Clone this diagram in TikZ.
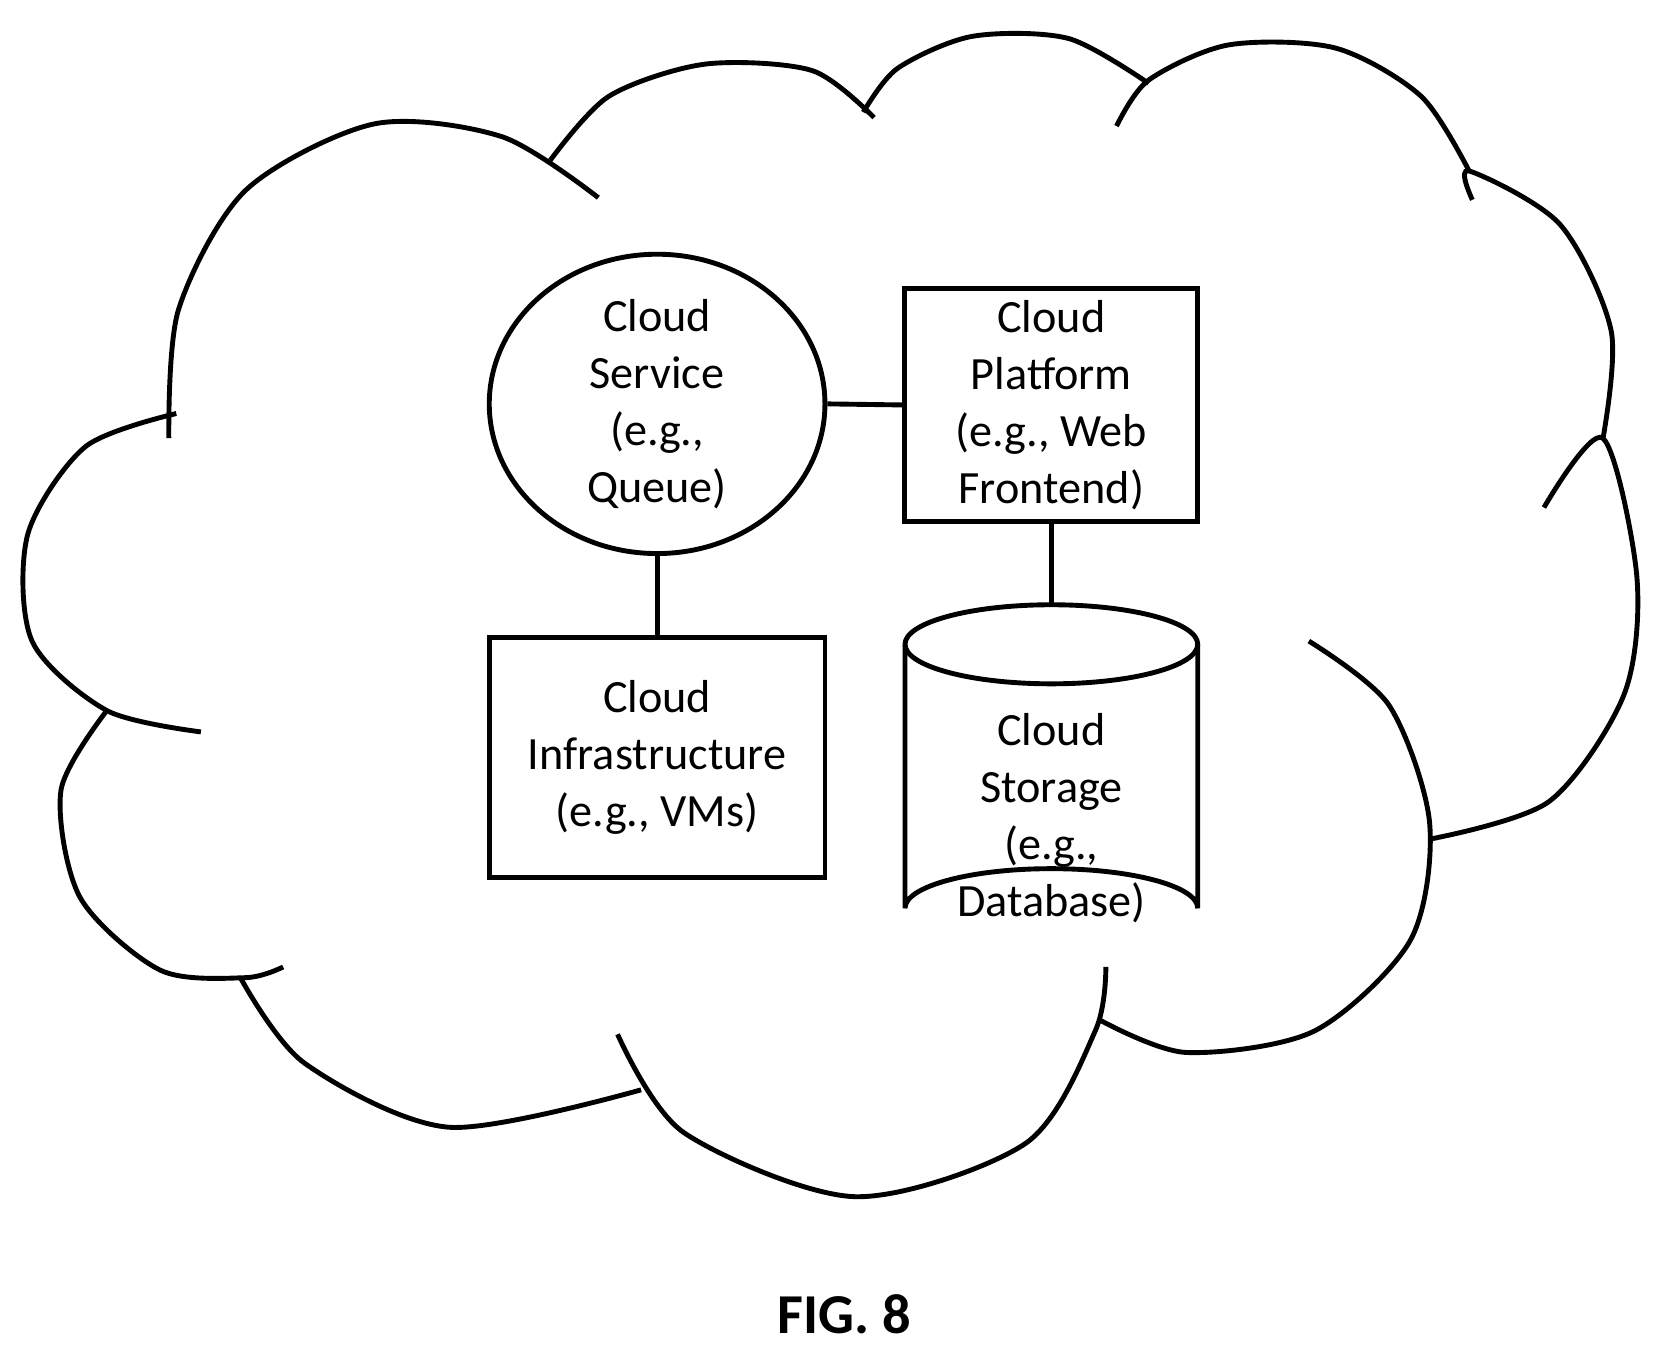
\documentclass[tikz,border=0pt]{standalone}
\usepackage{fontspec}
\setmainfont{Carlito}
\usetikzlibrary{shapes.geometric, positioning}

\begin{document}
\begin{tikzpicture}[x=0.01cm, y=-0.01cm, line width=1.3pt,
    lobe/.style={line width=1.3pt},
    txt/.style={align=center, font=\fontsize{12.3}{15.2}\selectfont},
    box/.style={draw, txt, minimum width=2.74cm, minimum height=2.18cm, inner sep=0pt}]
    \useasboundingbox (0,0) rectangle (1563,1263);

    % Cloud outline
    \draw[lobe] plot[smooth] coordinates {(560,185)(470,128)(350,116)(230,178)(167,290)(158,410)};
    \draw[lobe] plot[smooth] coordinates {(165,387)(80,418)(26,500)(30,600)(100,665)(188,685)};
    \draw[lobe] plot[smooth] coordinates {(100,665)(57,740)(75,840)(150,908)(230,915)(265,905)};
    \draw[lobe] plot[smooth] coordinates {(225,915)(285,995)(420,1055)(600,1020)};
    \draw[lobe] plot[smooth] coordinates {(578,968)(640,1060)(800,1120)(960,1070)(1025,965)(1035,905)};
    \draw[lobe] plot[smooth] coordinates {(1225,600)(1300,660)(1338,770)(1320,880)(1230,965)(1110,985)(1030,955)};
    \draw[lobe] plot[smooth] coordinates {(1340,785)(1450,750)(1520,650)(1532,540)(1500,410)(1445,475)};
    \draw[lobe] plot[smooth] coordinates {(1500,412)(1508,310)(1460,210)(1375,160)(1378,187)};
    \draw[lobe] plot[smooth] coordinates {(1375,160)(1330,90)(1250,45)(1150,42)(1075,75)(1045,118)};
    \draw[lobe] plot[smooth] coordinates {(1075,78)(1000,36)(910,34)(840,64)(808,105)};
    \draw[lobe] plot[smooth] coordinates {(818,110)(760,66)(660,60)(570,90)(515,150)};

    % Components
    \node[draw, ellipse, txt, minimum width=3.14cm, minimum height=2.8cm, inner sep=0pt] (service) at (615,378)
        {Cloud\\Service\\(e.g.,\\Queue)};
    \node[box] (platform) at (984,379) {Cloud\\Platform\\(e.g., Web\\Frontend)};
    \node[box, minimum width=3.14cm, minimum height=2.25cm] (infra) at (615,709) {Cloud\\Infrastructure\\(e.g., VMs)};

    % Storage cylinder
    \coordinate (storetop) at (984,566);
    \draw (847,603) arc[start angle=180, end angle=-180, x radius=137, y radius=37];
    \draw (847,603) -- (847,850) arc[start angle=180, end angle=360, x radius=137, y radius=37] -- (1121,603);
    \node[txt] (storage) at (984,766) {Cloud\\Storage\\(e.g.,\\Database)};

    % Links
    \draw (service.east) -- (platform.west);
    \draw (service.south) -- (infra.north);
    \draw (platform.south) -- (storetop);

    \node[font=\fontsize{15}{18}\selectfont\bfseries] (fig) at (790,1230) {FIG. 8};
\end{tikzpicture}
\end{document}
